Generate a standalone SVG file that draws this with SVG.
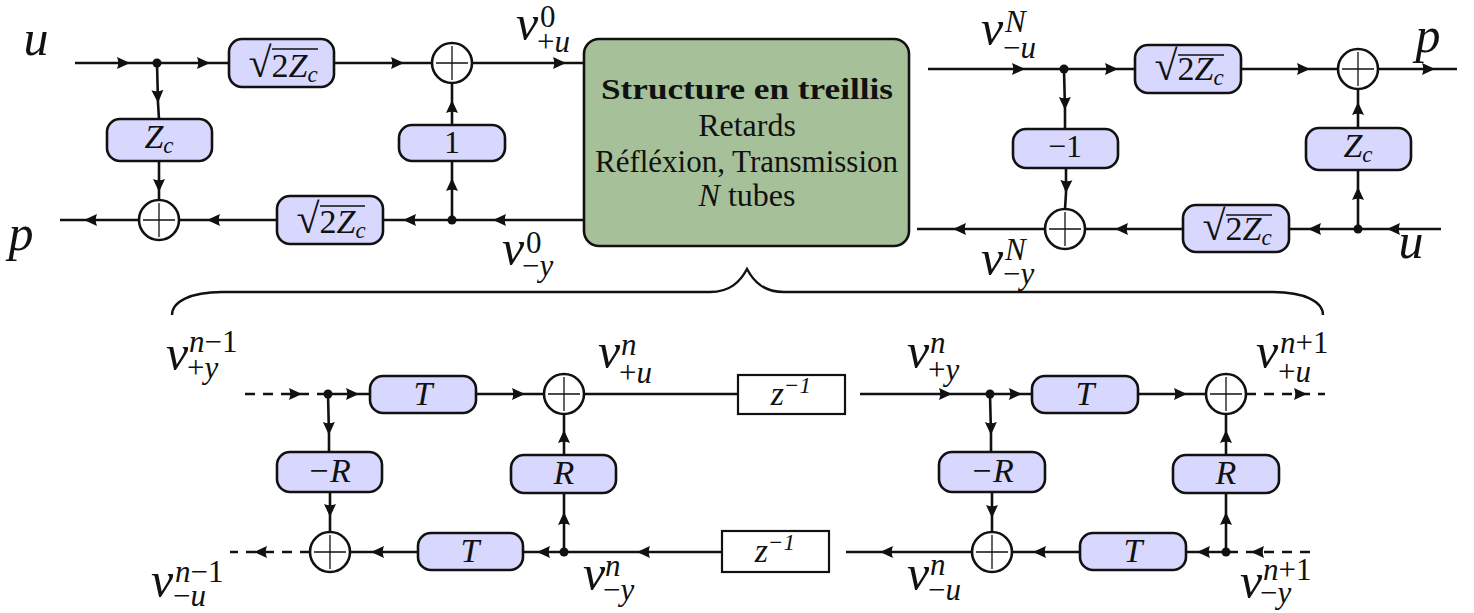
<svg xmlns="http://www.w3.org/2000/svg" width="1474" height="613" viewBox="0 0 1474 613">
<style>
text{font-family:"Liberation Serif","Times New Roman",serif;fill:#111;text-anchor:middle}
.m{font-style:italic;font-size:34px}
.r{font-size:32px}
.v{font-style:italic;font-size:50px;text-anchor:start}
.s{font-size:31px;text-anchor:start}
.l{font-style:italic;font-size:50px}
.b{fill:#d8d8ff;stroke:#111;stroke-width:2.6}
.z{fill:#fff;stroke:#111;stroke-width:2.2}
.c{fill:#fff;stroke:#111;stroke-width:2.6}
.p{fill:none;stroke:#111;stroke-width:1.3}
.w{fill:none;stroke:#111;stroke-width:2.6;marker-mid:url(#a)}
.d{fill:none;stroke:#111;stroke-width:2.6;stroke-dasharray:10 8;marker-mid:url(#a)}
.o{fill:#111}
.vin{stroke:#111;stroke-width:1.3}
.q{font-size:42px;font-style:normal}
.n{font-style:normal}
.t{font-size:23px}
.e{font-size:23px}
.i{font-style:italic}
</style>
<defs>
<marker id="a" markerUnits="userSpaceOnUse" markerWidth="16" markerHeight="16" refX="13" refY="7" orient="auto"><path d="M0 1L13 7L0 13Q2.500 7 0 1Z" fill="#111"/></marker>
<g id="plus"><circle class="c" r="20"/><path class="p" d="M-16 0H16M0 -17V17"/></g>
</defs>
<g id="connectors">
<polyline class="w" points="75,63 130,63 157,63"/>
<polyline class="w" points="157,63 210,63 229,63"/>
<polyline class="w" points="334,63 404,63 432,63"/>
<polyline class="w" points="472,63 566,63 584,63"/>
<polyline class="w" points="157,63 158,103 159,119"/>
<polyline class="w" points="159,161 159,192 159,200"/>
<polyline class="w" points="452,220 452,178 452,161"/>
<polyline class="w" points="452,125 452,100 452,83"/>
<polyline class="w" points="584,220 493,220 452,220"/>
<polyline class="w" points="452,220 403,220 383,220"/>
<polyline class="w" points="277,220 207,220 179,220"/>
<polyline class="w" points="139,220 84,220 60,220"/>
<polyline class="w" points="928,69 1025,69 1064,69"/>
<polyline class="w" points="1064,69 1118,69 1135,69"/>
<polyline class="w" points="1241,69 1310,69 1338,69"/>
<polyline class="w" points="1378,69 1435,69 1457,69"/>
<polyline class="w" points="1064,69 1065,110 1065,129"/>
<polyline class="w" points="1066,168 1066,193 1065,209"/>
<polyline class="w" points="1358,229 1358,187 1358,170"/>
<polyline class="w" points="1358,128 1358,102 1358,89"/>
<polyline class="w" points="1441,229 1387,229 1358,229"/>
<polyline class="w" points="1358,229 1308,229 1289,229"/>
<polyline class="w" points="1183,229 1115,229 1085,229"/>
<polyline class="w" points="1045,229 953,229 917,229"/>
<polyline class="d" points="245,394 302,394 328,394"/>
<polyline class="w" points="328,394 359,394 370,394"/>
<polyline class="w" points="476,394 525,394 544,394"/>
<polyline class="w" style="marker-mid:none" points="584,394 737,394"/>
<polyline class="w" points="328,394 329,435 329,452"/>
<polyline class="w" points="330,492 330,517 330,532"/>
<polyline class="w" points="564,552 564,512 564,493"/>
<polyline class="w" points="564,455 564,430 564,414"/>
<polyline class="w" points="722,552 637,552 564,552"/>
<polyline class="w" points="564,552 537,552 523,552"/>
<polyline class="w" points="418,552 371,552 350,552"/>
<polyline class="d" points="310,552 254,552 230,552"/>
<polyline class="w" points="860,394 952,394 990,394"/>
<polyline class="w" points="990,394 1022,394 1032,394"/>
<polyline class="w" points="1138,394 1187,394 1206,394"/>
<polyline class="d" points="1246,394 1307,394 1325,394"/>
<polyline class="w" points="990,394 991,435 991,452"/>
<polyline class="w" points="992,492 992,518 992,532"/>
<polyline class="w" points="1226,552 1226,512 1226,493"/>
<polyline class="w" points="1226,455 1226,430 1226,414"/>
<polyline class="w" points="1226,552 1197,552 1186,552"/>
<polyline class="d" points="1310,552 1251,552 1226,552"/>
<polyline class="w" points="1080,552 1033,552 1012,552"/>
<polyline class="w" points="972,552 880,552 846,552"/>
<path d="M172 315C172 302 190 292 222 292H710C730 292 740 282 747 269C754 282 764 292 784 292H1273C1305 292 1323 302 1323 315" fill="none" stroke="#111" stroke-width="2.400"/>
</g>
<g id="junctions"><circle class="o" cx="157" cy="63" r="4.500"/><circle class="o" cx="452" cy="220" r="4.500"/><circle class="o" cx="1064" cy="69" r="4.500"/><circle class="o" cx="1358" cy="229" r="4.500"/><circle class="o" cx="328" cy="394" r="4.500"/><circle class="o" cx="564" cy="552" r="4.500"/><circle class="o" cx="990" cy="394" r="4.500"/><circle class="o" cx="1226" cy="552" r="4.500"/></g>
<g id="sum1"><use href="#plus" x="452" y="63"/></g>
<g id="sum2"><use href="#plus" x="159" y="220"/></g>
<g id="sum3"><use href="#plus" x="1358" y="69"/></g>
<g id="sum4"><use href="#plus" x="1065" y="229"/></g>
<g id="sum5"><use href="#plus" x="564" y="394"/></g>
<g id="sum6"><use href="#plus" x="330" y="552"/></g>
<g id="sum7"><use href="#plus" x="1226" y="394"/></g>
<g id="sum8"><use href="#plus" x="992" y="552"/></g>
<g id="n1"><rect class="b" x="229" y="39" width="105" height="48" rx="13"/><path class="vin" d="M272 49H318"/><text class="m" x="283" y="77"><tspan class="q">√</tspan><tspan class="n">2</tspan>Z<tspan class="t" dy="5">c</tspan></text></g>
<g id="n2"><rect class="b" x="107" y="119" width="105" height="42" rx="13"/><text class="m" x="159" y="148">Z<tspan class="t" dy="5">c</tspan></text></g>
<g id="n3"><rect class="b" x="399" y="125" width="106" height="36" rx="13"/><text class="r" x="452" y="153">1</text></g>
<g id="n4"><rect class="b" x="277" y="196" width="106" height="48" rx="13"/><path class="vin" d="M320 206H365"/><text class="m" x="331" y="233"><tspan class="q">√</tspan><tspan class="n">2</tspan>Z<tspan class="t" dy="5">c</tspan></text></g>
<g id="main"><rect x="584" y="39" width="325" height="207" rx="15" fill="#a6c19a" stroke="#111" stroke-width="2.600"/>
<text x="747" y="99" font-size="30" font-weight="700" textLength="292" lengthAdjust="spacingAndGlyphs">Structure en treillis</text>
<text class="r" x="747" y="136">Retards</text>
<text class="r" x="746.500" y="172" textLength="303" lengthAdjust="spacingAndGlyphs">Réfléxion, Transmission</text>
<text class="r" x="747" y="206"><tspan class="i">N</tspan> tubes</text></g>
<g id="n5"><rect class="b" x="1135" y="45" width="106" height="48" rx="13"/><path class="vin" d="M1178 55H1224"/><text class="m" x="1189" y="80"><tspan class="q">√</tspan><tspan class="n">2</tspan>Z<tspan class="t" dy="5">c</tspan></text></g>
<g id="n6"><rect class="b" x="1013" y="129" width="105" height="39" rx="13"/><text class="r" x="1065" y="157">−1</text></g>
<g id="n7"><rect class="b" x="1306" y="128" width="105" height="42" rx="13"/><text class="m" x="1358" y="157">Z<tspan class="t" dy="5">c</tspan></text></g>
<g id="n8"><rect class="b" x="1183" y="205" width="106" height="47" rx="13"/><path class="vin" d="M1226 215H1272"/><text class="m" x="1237" y="240"><tspan class="q">√</tspan><tspan class="n">2</tspan>Z<tspan class="t" dy="5">c</tspan></text></g>
<g id="n9"><rect class="b" x="370" y="376" width="106" height="37" rx="13"/><text class="m" x="423" y="405">T</text></g>
<g id="n10"><rect class="b" x="277" y="452" width="105" height="40" rx="13"/><text class="m" x="329" y="482">−R</text></g>
<g id="n11"><rect class="b" x="511" y="455" width="105" height="38" rx="13"/><text class="m" x="564" y="484">R</text></g>
<g id="n12"><rect class="b" x="418" y="533" width="105" height="37" rx="13"/><text class="m" x="470" y="562">T</text></g>
<g id="z1"><rect class="z" x="738" y="375" width="107" height="39"/><text class="m" x="791" y="405">z<tspan class="e" dy="-12">−1</tspan></text></g>
<g id="z2"><rect class="z" x="722" y="531" width="107" height="41"/><text class="m" x="775" y="562">z<tspan class="e" dy="-12">−1</tspan></text></g>
<g id="n13"><rect class="b" x="1032" y="376" width="106" height="37" rx="13"/><text class="m" x="1085" y="405">T</text></g>
<g id="n14"><rect class="b" x="939" y="452" width="106" height="40" rx="13"/><text class="m" x="992" y="482">−R</text></g>
<g id="n15"><rect class="b" x="1173" y="455" width="106" height="38" rx="13"/><text class="m" x="1226" y="484">R</text></g>
<g id="n16"><rect class="b" x="1080" y="533" width="106" height="37" rx="13"/><text class="m" x="1133" y="562">T</text></g>
<g id="labels">
<text class="l" x="36" y="55">u</text><text class="l" x="21" y="250">p</text><text class="l" x="1428" y="52">p</text><text class="l" x="1411" y="258">u</text>
<text class="v" x="516" y="40">ν</text><text class="s" x="540" y="27">0</text><text class="s" x="537" y="52">+<tspan class="i">u</tspan></text>
<text class="v" x="502" y="265">ν</text><text class="s" x="526" y="253">0</text><text class="s" x="522" y="276">−<tspan class="i">y</tspan></text>
<text class="v" x="981" y="45">ν</text><text class="s i" x="1005" y="32">N</text><text class="s" x="1003" y="58">−<tspan class="i">u</tspan></text>
<text class="v" x="981" y="275">ν</text><text class="s i" x="1005" y="260">N</text><text class="s" x="1003" y="284">−<tspan class="i">y</tspan></text>
<text class="v" x="166" y="370">ν</text><text class="s" x="189" y="352"><tspan class="i">n</tspan>−1</text><text class="s" x="187" y="378">+<tspan class="i">y</tspan></text>
<text class="v" x="598" y="368">ν</text><text class="s i" x="621" y="355">n</text><text class="s" x="619" y="383">+<tspan class="i">u</tspan></text>
<text class="v" x="907" y="368">ν</text><text class="s i" x="930" y="353">n</text><text class="s" x="928" y="380">+<tspan class="i">y</tspan></text>
<text class="v" x="1256" y="368">ν</text><text class="s" x="1280" y="353"><tspan class="i">n</tspan>+1</text><text class="s" x="1278" y="382">+<tspan class="i">u</tspan></text>
<text class="v" x="151" y="597">ν</text><text class="s" x="175" y="582"><tspan class="i">n</tspan>−1</text><text class="s" x="173" y="606">−<tspan class="i">u</tspan></text>
<text class="v" x="583" y="590">ν</text><text class="s i" x="605" y="576">n</text><text class="s" x="603" y="600">−<tspan class="i">y</tspan></text>
<text class="v" x="907" y="590">ν</text><text class="s i" x="930" y="575">n</text><text class="s" x="928" y="600">−<tspan class="i">u</tspan></text>
<text class="v" x="1240" y="598">ν</text><text class="s" x="1263" y="580"><tspan class="i">n</tspan>+1</text><text class="s" x="1260" y="603">−<tspan class="i">y</tspan></text>
</g>
</svg>
